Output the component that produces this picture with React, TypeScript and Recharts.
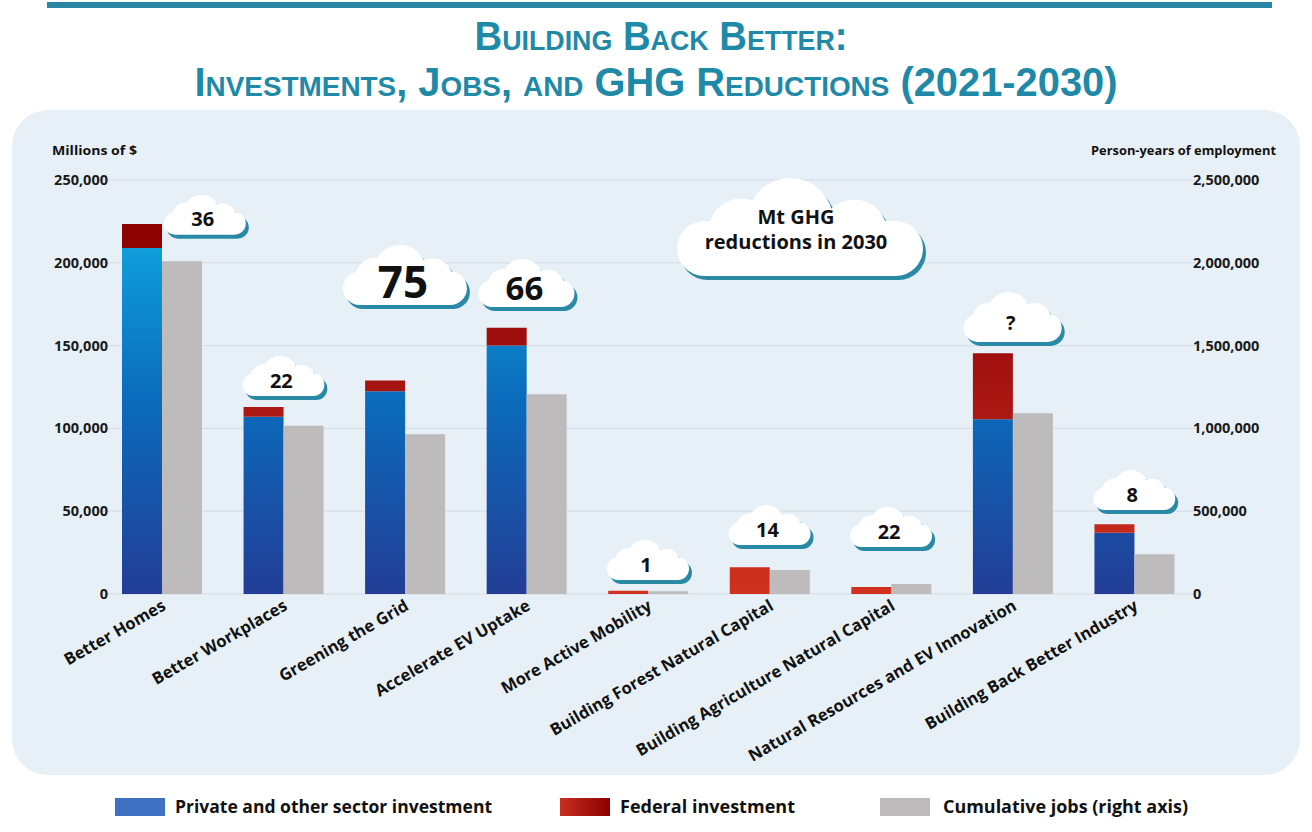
import React from 'react';
import { ComposedChart, Bar, Line, XAxis, YAxis, CartesianGrid } from 'recharts';

const categories = [
  'Better Homes',
  'Better Workplaces',
  'Greening the Grid',
  'Accelerate EV Uptake',
  'More Active Mobility',
  'Building Forest Natural Capital',
  'Building Agriculture Natural Capital',
  'Natural Resources and EV Innovation',
  'Building Back Better Industry',
];
const privateInvestment = [209000, 107000, 122400, 150000, 0, 0, 0, 105500, 37000];
const federalInvestment = [14400, 5900, 6600, 10800, 2000, 16100, 4200, 39900, 5100];
const cumulativeJobs = [2010000, 1016000, 964000, 1206000, 17000, 145000, 60000, 1091000, 240000];
const ghgReductions = ['36', '22', '75', '66', '1', '14', '22', '?', '8'];
const ghgCloudBase = [217000, 119600, 174500, 173300, 8500, 29600, 28400, 152200, 50700];
const leftTicks = [0, 50000, 100000, 150000, 200000, 250000];
const rightTicks = [0, 500000, 1000000, 1500000, 2000000, 2500000];

const data = categories.map((name, i) => ({
  name,
  private: privateInvestment[i],
  federal: federalInvestment[i],
  jobs: cumulativeJobs[i],
  ghg: ghgReductions[i],
  cloud: ghgCloudBase[i],
  total: privateInvestment[i] + federalInvestment[i],
}));

const FONT = "'Open Sans', 'DejaVu Sans', sans-serif";
const TITLE_FONT = "'Liberation Sans', Arial, sans-serif";
const TEAL = '#1f89a8';

function cloudParts(w: number, h: number, fill: string) {
  return (
    <g fill={fill}>
      <rect x={-w / 2} y={-0.56 * h} width={w} height={0.56 * h} rx={0.28 * h} />
      <circle cx={-0.24 * w} cy={-0.46 * h} r={0.33 * h} />
      <circle cx={-0.04 * w} cy={-0.56 * h} r={0.44 * h} />
      <circle cx={0.22 * w} cy={-0.44 * h} r={0.34 * h} />
    </g>
  );
}

function Cloud({ cx, by, w, h, children }: any) {
  return (
    <g transform={`translate(${cx},${by})`}>
      <g transform="translate(3,4)">{cloudParts(w, h, '#2a8aa6')}</g>
      {cloudParts(w, h, '#ffffff')}
      {children}
    </g>
  );
}

function cloudSize(label: string) {
  const v = Number(label);
  if (!isNaN(v) && v >= 70) return { w: 124, h: 60, fs: 44 };
  if (!isNaN(v) && v >= 60) return { w: 96, h: 48, fs: 33 };
  if (label === '?') return { w: 98, h: 50, fs: 20 };
  return { w: 82, h: 40, fs: 20 };
}

const renderCloud = (props: any) => {
  const { cx, cy, index, payload } = props;
  if (cx == null || cy == null) return <g key={`c-${index}`} />;
  const { w, h, fs } = cloudSize(payload.ghg);
  const shift = payload.cloud < payload.total ? 43 : 0;
  return (
    <Cloud key={`c-${index}`} cx={cx + shift} by={cy} w={w} h={h}>
      <text
        x={-2}
        y={-0.38 * h}
        dy="0.35em"
        textAnchor="middle"
        fontFamily={FONT}
        fontWeight={700}
        fontSize={fs}
        fill="#111"
      >
        {payload.ghg}
      </text>
    </Cloud>
  );
};

const LeftTick = (props: any) => {
  const { x, y, payload } = props;
  return (
    <text x={x + 7} y={y} dy="0.35em" textAnchor="end" fontFamily={FONT} fontWeight={700} fontSize={14.5} fill="#1a1a1a">
      {Number(payload.value).toLocaleString('en-US')}
    </text>
  );
};

const RightTick = (props: any) => {
  const { x, y, payload } = props;
  return (
    <text x={x - 2} y={y} dy="0.35em" textAnchor="start" fontFamily={FONT} fontWeight={700} fontSize={14.5} fill="#1a1a1a">
      {Number(payload.value).toLocaleString('en-US')}
    </text>
  );
};

const XTick = (props: any) => {
  const { x, y, payload } = props;
  return (
    <g transform={`translate(${x + 5},${y + 15}) rotate(-30)`}>
      <text x={0} y={0} textAnchor="end" fontFamily={FONT} fontWeight={700} fontSize={16.5} fill="#111">
        {payload.value}
      </text>
    </g>
  );
};

export default function App() {
  return (
    <div style={{ position: 'absolute', left: 0, top: 0, width: 1312, height: 832, background: '#ffffff', overflow: 'hidden' }}>
      <div
        style={{
          position: 'absolute',
          left: 12,
          top: 110,
          width: 1288,
          height: 665,
          borderRadius: 36,
          background: '#e7f0f6',
        }}
      />
      <div style={{ position: 'absolute', left: 0, top: 0 }}>
        <ComposedChart
          width={1312}
          height={832}
          data={data}
          margin={{ top: 180, right: 37, bottom: 208, left: 41 }}
          barGap={0}
          barSize={40}
        >
          <defs>
            <linearGradient id="blueGrad" gradientUnits="userSpaceOnUse" x1="0" y1="200" x2="0" y2="594">
              <stop offset="0" stopColor="#1cb0e8" />
              <stop offset="0.15" stopColor="#0f9ad8" />
              <stop offset="0.5" stopColor="#0a6cbc" />
              <stop offset="1" stopColor="#233d96" />
            </linearGradient>
            <linearGradient id="redGrad" gradientUnits="userSpaceOnUse" x1="0" y1="220" x2="0" y2="594">
              <stop offset="0" stopColor="#8c0000" />
              <stop offset="0.4" stopColor="#a31210" />
              <stop offset="1" stopColor="#d0321f" />
            </linearGradient>
          </defs>
          <CartesianGrid yAxisId="left" vertical={false} stroke="#d3dce5" strokeWidth={1} />
          <XAxis dataKey="name" tick={<XTick />} tickLine={false} axisLine={false} tickSize={0} tickMargin={0} height={30} interval={0} />
          <YAxis
            yAxisId="left"
            domain={[0, 250000]}
            ticks={leftTicks}
            tick={<LeftTick />}
            tickLine={false}
            axisLine={false}
            tickSize={0}
            tickMargin={0}
            width={60}
          />
          <YAxis
            yAxisId="right"
            orientation="right"
            domain={[0, 2500000]}
            ticks={rightTicks}
            tick={<RightTick />}
            tickLine={false}
            axisLine={false}
            tickSize={0}
            tickMargin={0}
            width={80}
          />
          <Bar yAxisId="left" dataKey="private" stackId="inv" fill="url(#blueGrad)" isAnimationActive={false} />
          <Bar yAxisId="left" dataKey="federal" stackId="inv" fill="url(#redGrad)" isAnimationActive={false} />
          <Bar yAxisId="right" dataKey="jobs" fill="#bdbbbb" isAnimationActive={false} />
          <Line
            yAxisId="left"
            dataKey="cloud"
            stroke="none"
            dot={renderCloud}
            activeDot={false}
            isAnimationActive={false}
            legendType="none"
          />
        </ComposedChart>
      </div>
      <svg width={1312} height={832} style={{ position: 'absolute', left: 0, top: 0, pointerEvents: 'none' }}>
        <rect x={47} y={2} width={1225} height={6} fill="#2a87a3" />
        <text
          x={661}
          y={50}
          textAnchor="middle"
          fontFamily={TITLE_FONT}
          fontWeight={700}
          fontSize={40}
          fill={TEAL}
          textLength={373}
          lengthAdjust="spacingAndGlyphs"
          style={{ fontVariant: 'small-caps' }}
        >
          Building Back Better:
        </text>
        <text
          x={656}
          y={96}
          textAnchor="middle"
          fontFamily={TITLE_FONT}
          fontWeight={700}
          fontSize={40}
          fill={TEAL}
          textLength={923}
          lengthAdjust="spacingAndGlyphs"
          style={{ fontVariant: 'small-caps' }}
        >
          Investments, Jobs, and GHG Reductions (2021-2030)
        </text>
        <text x={52} y={155} fontFamily={FONT} fontWeight={700} fontSize={13} fill="#111" textLength={85} lengthAdjust="spacingAndGlyphs">
          Millions of $
        </text>
        <text x={1276} y={155} textAnchor="end" fontFamily={FONT} fontWeight={700} fontSize={13} fill="#111" textLength={185} lengthAdjust="spacingAndGlyphs">
          Person-years of employment
        </text>
        <Cloud cx={800} by={276} w={246} h={98}>
          <text x={-4} y={-52} textAnchor="middle" fontFamily={FONT} fontWeight={700} fontSize={20} fill="#111">
            Mt GHG
          </text>
          <text x={-4} y={-27} textAnchor="middle" fontFamily={FONT} fontWeight={700} fontSize={20} fill="#111">
            reductions in 2030
          </text>
        </Cloud>
        <defs>
          <linearGradient id="legRed" x1="0" y1="0" x2="1" y2="0">
            <stop offset="0" stopColor="#c92d20" />
            <stop offset="1" stopColor="#8a0000" />
          </linearGradient>
        </defs>
        <rect x={115} y={798} width={50} height={18} fill="#3f70c2" />
        <text x={175} y={813} fontFamily={FONT} fontWeight={700} fontSize={17} fill="#111" textLength={317} lengthAdjust="spacingAndGlyphs">
          Private and other sector investment
        </text>
        <rect x={560} y={798} width={50} height={18} fill="url(#legRed)" />
        <text x={620} y={813} fontFamily={FONT} fontWeight={700} fontSize={17} fill="#111" textLength={175} lengthAdjust="spacingAndGlyphs">
          Federal investment
        </text>
        <rect x={880} y={798} width={50} height={18} fill="#bdbbbb" />
        <text x={943} y={813} fontFamily={FONT} fontWeight={700} fontSize={17} fill="#111" textLength={245} lengthAdjust="spacingAndGlyphs">
          Cumulative jobs (right axis)
        </text>
      </svg>
    </div>
  );
}
